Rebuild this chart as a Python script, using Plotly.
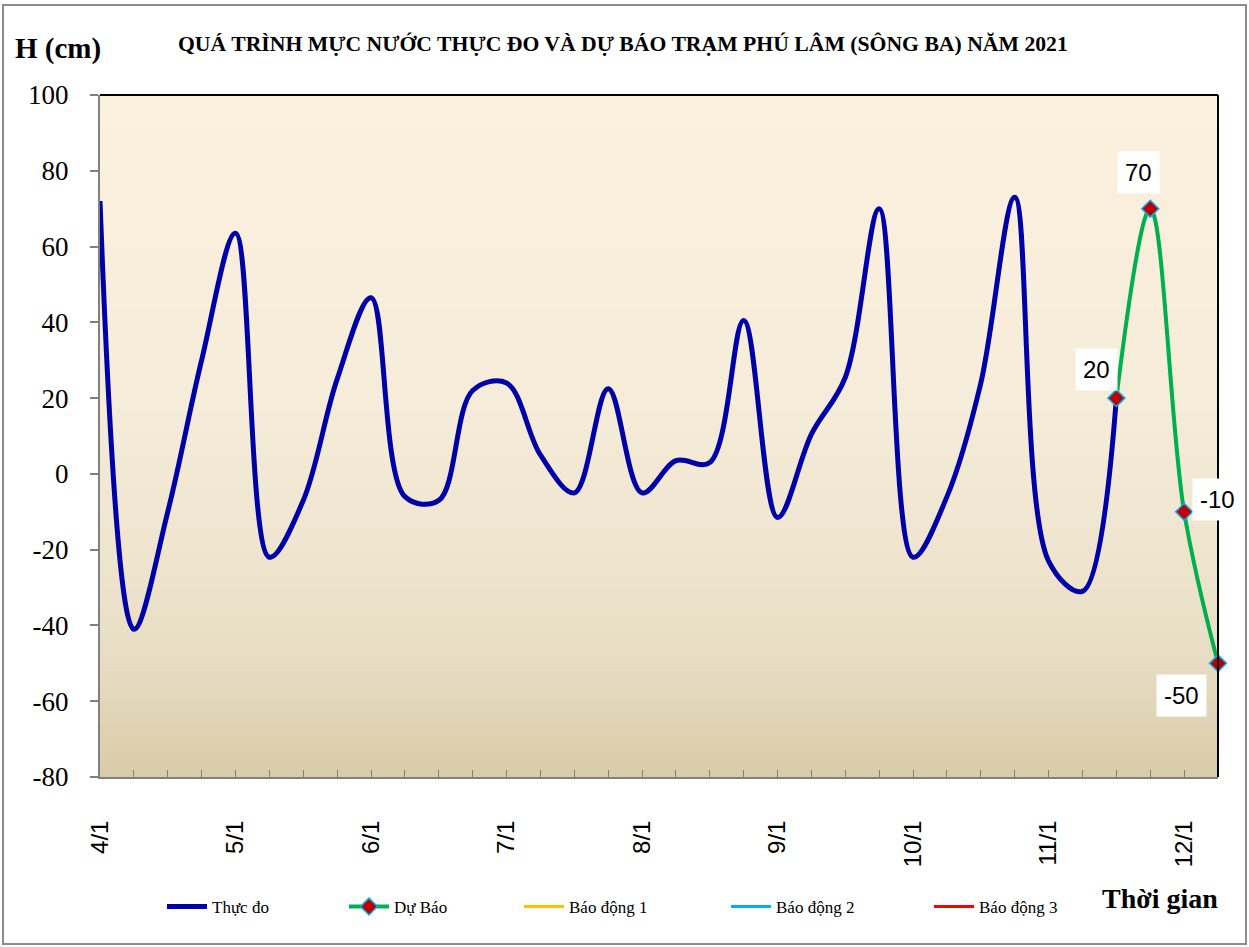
import plotly.graph_objects as go

# ---------------- data ----------------
day_labels = ["4/1", "5/1", "6/1", "7/1", "8/1", "9/1", "10/1", "11/1", "12/1"]
steps_per_day = 4

observed = [72, -41, -10, 30, 63.5, -22, -7, 25, 46.5, -6,
            -7, 22, 24, 5, -5, 22.5, -5, 3.5, 3, 40.5,
            -11.5, 10.5, 25.5, 70, -22, -6, 24, 73, -23, -31,
            20]
forecast_start = 30
forecast = [20, 70, -10, -50]

series_names = ["Thực đo", "Dự Báo", "Báo động 1", "Báo động 2", "Báo động 3"]
alarm_colors = ["#FFC000", "#00B0F0", "#FF0000"]

y_ticks = [-80, -60, -40, -20, 0, 20, 40, 60, 80, 100]

title_text = "QUÁ TRÌNH MỰC NƯỚC THỰC ĐO VÀ DỰ BÁO TRẠM PHÚ LÂM (SÔNG BA) NĂM 2021"

# ---------------- derived ----------------
x_obs = list(range(len(observed)))
x_fc = list(range(forecast_start, forecast_start + len(forecast)))
n_last = x_fc[-1]
tickvals = list(range(0, n_last))
ticktext = [day_labels[i // steps_per_day] if i % steps_per_day == 0 else "" for i in tickvals]

SERIF = "Liberation Serif"
SANS = "Liberation Sans"

W, H = 1249, 947
L, R, T, B = 100, 31, 95, 170
pw, ph = W - L - R, H - T - B
def px(x): return (x - L) / pw
def py(y): return (H - B - y) / ph

fig = go.Figure()

legend_ids = ["legend", "legend2", "legend3", "legend4", "legend5"]
legend_x = [164, 346, 521, 728, 931]

fig.add_trace(go.Scatter(
    x=x_obs, y=observed, mode="lines", name=series_names[0], legend=legend_ids[0],
    line=dict(color="#0000A8", width=5, shape="spline", smoothing=1.0),
))
fig.add_trace(go.Scatter(
    x=x_fc, y=forecast, mode="lines+markers", name=series_names[1], legend=legend_ids[1],
    line=dict(color="#00B050", width=4, shape="spline", smoothing=1.0),
    marker=dict(symbol="diamond", size=13, color="#C00000",
                line=dict(color="#00B0F0", width=1.5)),
    cliponaxis=False,
))
for name, col, lid in zip(series_names[2:], alarm_colors, legend_ids[2:]):
    fig.add_trace(go.Scatter(x=[None], y=[None], mode="lines", name=name, legend=lid,
                             line=dict(color=col, width=3)))

# data labels of forecast
label_shift = [(-20, 29), (-12, 36), (33, 12), (-37, -32)]
for xi, yi, (dx, dy) in zip(x_fc, forecast, label_shift):
    fig.add_annotation(x=xi, y=yi, text=f"{yi:g}", showarrow=False,
                       xshift=dx, yshift=dy, bgcolor="white", borderpad=7,
                       font=dict(family=SANS, size=24, color="black"))

# ---------------- gradient background of plot area ----------------
stops = [(0.0, (252, 241, 222)), (0.45, (245, 236, 217)), (0.7, (238, 228, 206)),
         (0.85, (230, 219, 193)), (1.0, (216, 203, 168))]

def grad(t):
    for (t0, c0), (t1, c1) in zip(stops[:-1], stops[1:]):
        if t0 <= t <= t1:
            f = (t - t0) / (t1 - t0)
            return "rgb(%d,%d,%d)" % tuple(round(a + (b - a) * f) for a, b in zip(c0, c1))
    return "rgb(%d,%d,%d)" % stops[-1][1]

nstripes = 80
shapes = []
for k in range(nstripes):
    y1 = 1 - k / nstripes
    y0 = 1 - (k + 1) / nstripes
    shapes.append(dict(type="rect", xref="x domain", yref="y domain",
                       x0=0, x1=1, y0=y0 - 0.001, y1=y1, layer="below",
                       line=dict(width=0), fillcolor=grad((k + 0.5) / nstripes)))
shapes.append(dict(type="line", xref="x domain", yref="y domain", x0=0, x1=1, y0=1, y1=1,
                   line=dict(color="black", width=2)))
shapes.append(dict(type="line", xref="x domain", yref="y domain", x0=1, x1=1, y0=0, y1=1,
                   line=dict(color="black", width=2)))
shapes.append(dict(type="rect", xref="paper", yref="paper",
                   x0=px(3), x1=px(1246), y0=py(944), y1=py(5),
                   line=dict(color="#8C8C8C", width=2), layer="below"))

legend_common = dict(orientation="h", xanchor="left", yanchor="middle",
                     font=dict(family=SERIF, size=17, color="black"),
                     bgcolor="rgba(0,0,0,0)", itemwidth=40)
legends = {lid: dict(legend_common, x=px(xp - 2), y=py(907)) for lid, xp in zip(legend_ids, legend_x)}

fig.update_layout(
    width=W, height=H,
    margin=dict(l=L, r=R, t=T, b=B, autoexpand=False),
    paper_bgcolor="white", plot_bgcolor="rgba(0,0,0,0)",
    shapes=shapes,
    showlegend=True,
    **legends,
    xaxis=dict(range=[0, n_last], tickmode="array", tickvals=tickvals, ticktext=ticktext,
               ticks="inside", ticklen=7, tickcolor="#808080", tickwidth=1,
               tickangle=-90, ticklabelstandoff=32, automargin=False,
               tickfont=dict(family=SANS, size=24, color="black"),
               showline=True, linecolor="#808080", linewidth=2,
               showgrid=False, zeroline=False),
    yaxis=dict(range=[-80, 100], tickmode="array", tickvals=y_ticks,
               ticktext=[str(v) for v in y_ticks],
               ticks="outside", ticklen=8, tickcolor="#808080", tickwidth=2,
               ticklabelstandoff=16, automargin=False,
               tickfont=dict(family=SERIF, size=27, color="black"),
               showline=True, linecolor="#808080", linewidth=2,
               showgrid=False, zeroline=False),
)

fig.add_annotation(xref="paper", yref="paper", x=px(623), y=py(44), text="<b>" + title_text + "</b>",
                   showarrow=False, xanchor="center", yanchor="middle",
                   font=dict(family=SERIF, size=21.7, color="black"))
fig.add_annotation(xref="paper", yref="paper", x=px(13), y=py(48), text="<b>H (cm)</b>",
                   showarrow=False, xanchor="left", yanchor="middle",
                   font=dict(family=SERIF, size=29, color="black"))
fig.add_annotation(xref="paper", yref="paper", x=px(1160), y=py(898), text="<b>Thời gian</b>",
                   showarrow=False, xanchor="center", yanchor="middle",
                   font=dict(family=SERIF, size=28, color="black"))

fig.write_html("out.html", config={"displayModeBar": False},
               post_script="document.body.style.margin='0';")
